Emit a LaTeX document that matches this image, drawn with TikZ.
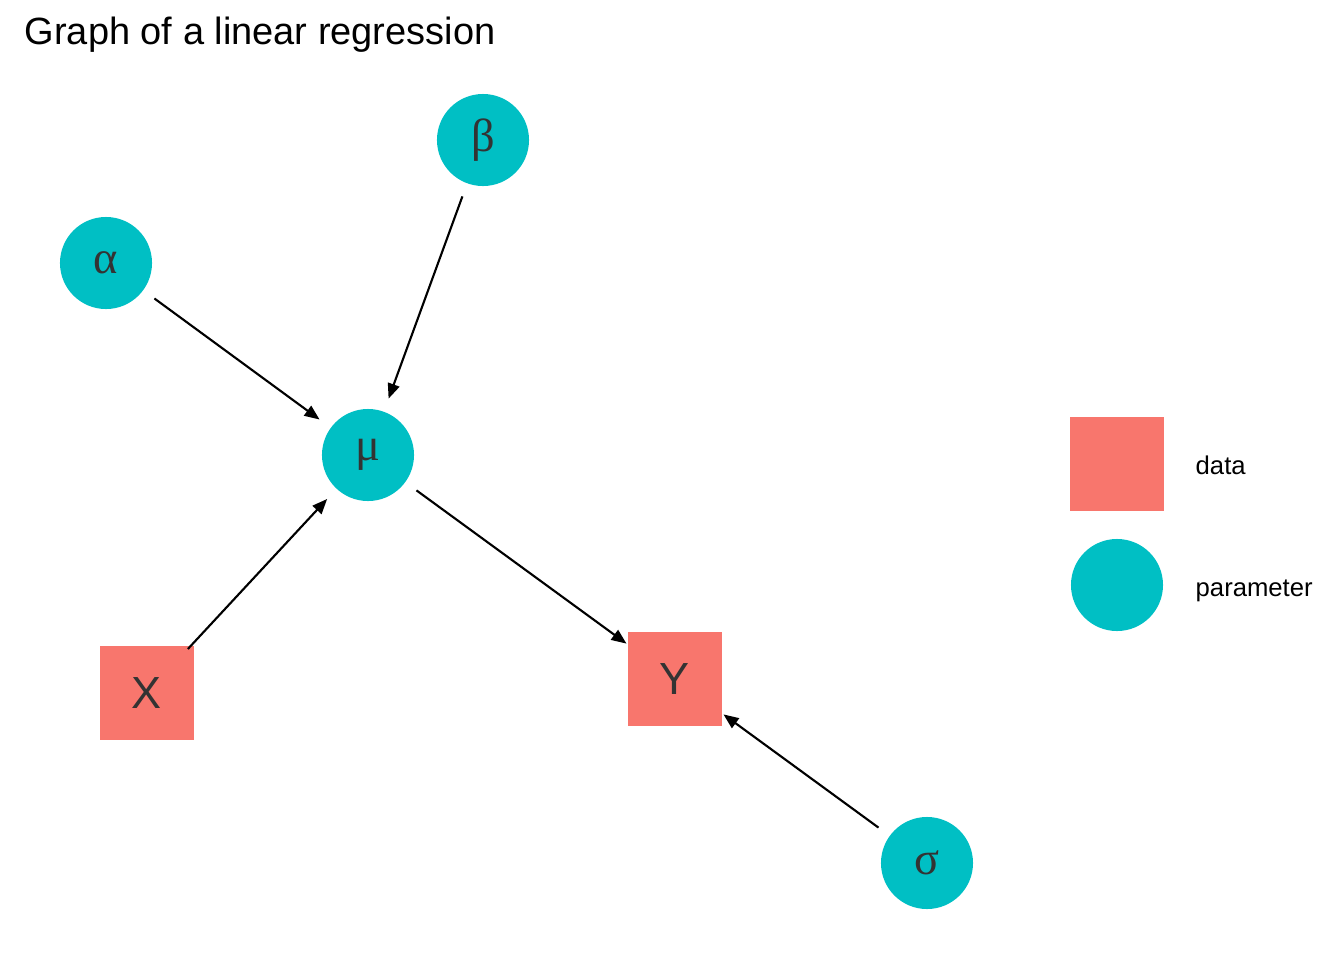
\documentclass[tikz,border=0pt]{standalone}
\usepackage{fontspec}
\setmainfont{Liberation Sans}
\newfontfamily\greekfont{Liberation Serif}
\usepackage{tikz}
\usetikzlibrary{arrows.meta,positioning}
\definecolor{paramcol}{HTML}{00BFC4}
\definecolor{datacol}{HTML}{F8766D}
\definecolor{labelcol}{HTML}{333333}

\begin{document}
\begin{tikzpicture}[x=0.01cm,y=-0.01cm,
  param/.style={circle,fill=paramcol,minimum size=0.92cm,inner sep=0pt,text=labelcol,font=\greekfont\fontsize{13.2}{15}\selectfont},
  data/.style={rectangle,fill=datacol,minimum size=0.93cm,inner sep=0pt,text=labelcol,font=\fontsize{12.8}{14}\selectfont},
  edge/.style={-{Triangle[length=0.15cm,width=0.12cm]},line width=0.6pt,shorten <=0.6cm,shorten >=0.6cm},
  keytext/.style={anchor=base west,inner sep=0pt,font=\fontsize{7.3}{9}\selectfont}]
\useasboundingbox (0,0) rectangle (1344,960);
\node[anchor=base west,inner sep=0pt,font=\fontsize{10.8}{12}\selectfont] (title) at (24,44) {Graph of a linear regression};
% nodes of the graph
\node[param] (beta) at (483,140) {β};
\node[param] (alpha) at (106,263) {α};
\node[param] (mu) at (368,455) {μ};
\node[data] (x) at (147,693) {X};
\node[data] (y) at (675,679) {Y};
\node[param] (sigma) at (927,863) {σ};
% edges
\draw[edge] (alpha.center) -- (mu.center);
\draw[edge] (beta.center) -- (mu.center);
\draw[edge] (x.center) -- (mu.center);
\draw[edge] (mu.center) -- (y.center);
\draw[edge] (sigma.center) -- (y.center);
% legend
\node[data] (keydata) at (1117,464) {};
\node[param] (keyparam) at (1117,585) {};
\node[keytext] (datalabel) at (1195,474) {data};
\node[keytext] (paramlabel) at (1195,596) {parameter};
\end{tikzpicture}
\end{document}
